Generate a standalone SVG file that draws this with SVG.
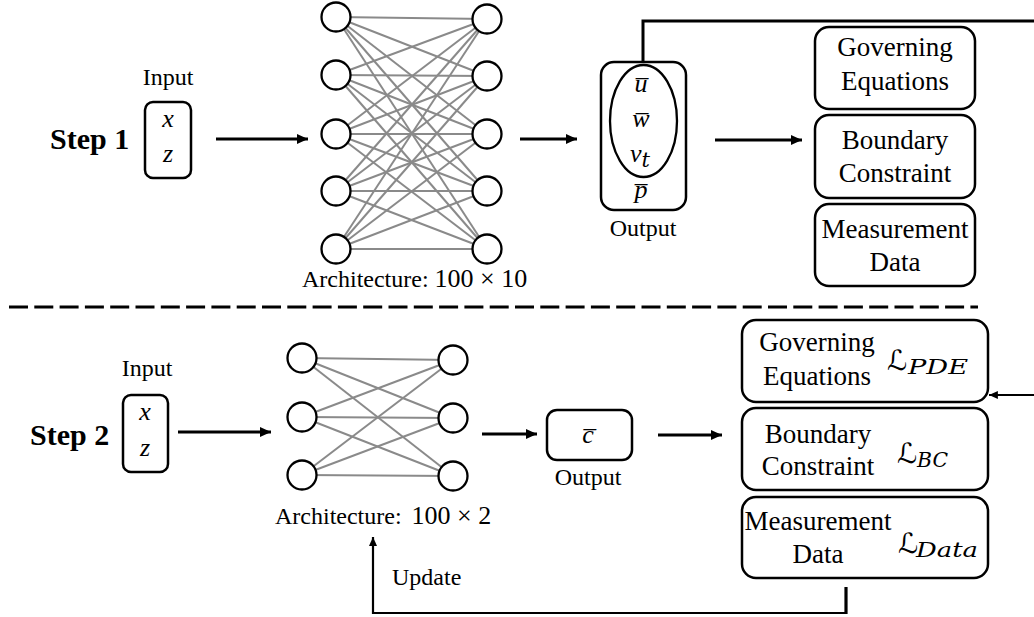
<svg xmlns="http://www.w3.org/2000/svg" width="1034" height="617" viewBox="0 0 1034 617">
<defs>
<style>
.box{fill:#fff;stroke:#000;stroke-width:2.5}
.nd{fill:#fff;stroke:#000;stroke-width:2.3}
.ed{stroke:#8a8a8a;stroke-width:2}
.ln{fill:none;stroke:#000;stroke-width:3}
.lbl{font-family:"Liberation Serif",serif;font-size:24px;fill:#000}
.bt{font-family:"Liberation Serif",serif;font-size:27px;fill:#000;text-anchor:middle}
.step{font-family:"Liberation Serif",serif;font-size:30px;font-weight:bold;fill:#000}
.m{font-family:"Liberation Serif",serif;font-style:italic;font-size:26px;fill:#000;text-anchor:middle}
.mu{font-family:"Liberation Serif",serif;font-size:26px;fill:#000}
.L{font-family:"DejaVu Serif","DejaVu Sans",serif;font-size:28px;fill:#000}
.sub{font-family:"DejaVu Serif",serif;font-style:italic;font-size:21px;fill:#000}
</style>
<marker id="ah" viewBox="0 0 10 9" refX="10" refY="4.5" markerWidth="11" markerHeight="10" markerUnits="userSpaceOnUse" orient="auto">
<path d="M0,0 L10,4.5 L0,9 z" fill="#000"/>
</marker>
<marker id="ahs" viewBox="0 0 10 9" refX="10" refY="4.5" markerWidth="9" markerHeight="8" markerUnits="userSpaceOnUse" orient="auto">
<path d="M0,0 L10,4.5 L0,9 z" fill="#000"/>
</marker>
</defs>
<rect width="1034" height="617" fill="#fff"/>

<g id="connectors">
<line class="ln" x1="216" y1="139" x2="308" y2="139" marker-end="url(#ah)"/>
<line class="ln" x1="520" y1="139" x2="577" y2="139" marker-end="url(#ah)"/>
<line class="ln" x1="715" y1="140" x2="802" y2="140" marker-end="url(#ah)"/>
<path class="ln" d="M643,62 V21 H1034"/>
<line class="ln" x1="178" y1="432" x2="271" y2="432" marker-end="url(#ah)"/>
<line class="ln" x1="482" y1="434" x2="537" y2="434" marker-end="url(#ah)"/>
<line class="ln" x1="658" y1="435" x2="722" y2="435" marker-end="url(#ah)"/>
<line x1="1034" y1="395" x2="989" y2="395" stroke="#000" stroke-width="1.8" marker-end="url(#ahs)"/>
<path d="M846,613 H373 V537" fill="none" stroke="#000" stroke-width="2.2" marker-end="url(#ahs)"/>
<line x1="846" y1="587" x2="846" y2="614" stroke="#000" stroke-width="3.2"/>
<line x1="9" y1="307" x2="978" y2="307" stroke="#000" stroke-width="3" stroke-dasharray="19 6.3"/>
</g>

<g id="step1-label"><text class="step" x="50" y="149">Step 1</text></g>

<g id="step1-input">
<text class="lbl" x="168" y="85" text-anchor="middle">Input</text>
<rect class="box" x="145" y="102" width="46" height="76" rx="8"/>
<text class="m" x="168" y="127">x</text>
<text class="m" x="168" y="162">z</text>
</g>

<g id="step1-network">
<g class="ed">
<line x1="336" y1="17" x2="487" y2="19"/><line x1="336" y1="17" x2="487" y2="76"/><line x1="336" y1="17" x2="487" y2="134"/><line x1="336" y1="17" x2="487" y2="191"/><line x1="336" y1="17" x2="487" y2="249"/>
<line x1="336" y1="75" x2="487" y2="19"/><line x1="336" y1="75" x2="487" y2="76"/><line x1="336" y1="75" x2="487" y2="134"/><line x1="336" y1="75" x2="487" y2="191"/><line x1="336" y1="75" x2="487" y2="249"/>
<line x1="336" y1="134" x2="487" y2="19"/><line x1="336" y1="134" x2="487" y2="76"/><line x1="336" y1="134" x2="487" y2="134"/><line x1="336" y1="134" x2="487" y2="191"/><line x1="336" y1="134" x2="487" y2="249"/>
<line x1="336" y1="191" x2="487" y2="19"/><line x1="336" y1="191" x2="487" y2="76"/><line x1="336" y1="191" x2="487" y2="134"/><line x1="336" y1="191" x2="487" y2="191"/><line x1="336" y1="191" x2="487" y2="249"/>
<line x1="336" y1="249" x2="487" y2="19"/><line x1="336" y1="249" x2="487" y2="76"/><line x1="336" y1="249" x2="487" y2="134"/><line x1="336" y1="249" x2="487" y2="191"/><line x1="336" y1="249" x2="487" y2="249"/>
</g>
<circle class="nd" cx="336" cy="17" r="14.5"/><circle class="nd" cx="336" cy="75" r="14.5"/><circle class="nd" cx="336" cy="134" r="14.5"/><circle class="nd" cx="336" cy="191" r="14.5"/><circle class="nd" cx="336" cy="249" r="14.5"/>
<circle class="nd" cx="487" cy="19" r="14.5"/><circle class="nd" cx="487" cy="76" r="14.5"/><circle class="nd" cx="487" cy="134" r="14.5"/><circle class="nd" cx="487" cy="191" r="14.5"/><circle class="nd" cx="487" cy="249" r="14.5"/>
<text class="lbl" x="302" y="287">Architecture: <tspan class="mu">100 × 10</tspan></text>
</g>

<g id="step1-output">
<rect class="box" x="601" y="62" width="85" height="148" rx="13"/>
<ellipse cx="643.5" cy="121" rx="33.5" ry="56" fill="none" stroke="#000" stroke-width="2.3"/>
<text class="m" x="641" y="92">u̅</text>
<text class="m" x="641" y="127">w̅</text>
<text class="m" x="640" y="162">ν<tspan class="sub" font-size="17" dy="5">t</tspan></text>
<text class="m" x="641" y="198">p̅</text>
<text class="lbl" x="643" y="236" text-anchor="middle">Output</text>
</g>

<g id="step1-governing">
<rect class="box" x="815" y="27" width="160" height="82" rx="14"/>
<text class="bt" x="895" y="56">Governing</text>
<text class="bt" x="895" y="90">Equations</text>
</g>
<g id="step1-boundary">
<rect class="box" x="815" y="115" width="160" height="83" rx="14"/>
<text class="bt" x="895" y="149">Boundary</text>
<text class="bt" x="895" y="182">Constraint</text>
</g>
<g id="step1-measurement">
<rect class="box" x="815" y="204" width="160" height="82" rx="14"/>
<text class="bt" x="895" y="238">Measurement</text>
<text class="bt" x="895" y="271">Data</text>
</g>

<g id="step2-label"><text class="step" x="30" y="445">Step 2</text></g>

<g id="step2-input">
<text class="lbl" x="147" y="376" text-anchor="middle">Input</text>
<rect class="box" x="123" y="395" width="45" height="77" rx="8"/>
<text class="m" x="145" y="420">x</text>
<text class="m" x="145" y="456">z</text>
</g>

<g id="step2-network">
<g class="ed">
<line x1="302" y1="358" x2="453" y2="360"/><line x1="302" y1="358" x2="453" y2="418"/><line x1="302" y1="358" x2="453" y2="476"/>
<line x1="302" y1="417" x2="453" y2="360"/><line x1="302" y1="417" x2="453" y2="418"/><line x1="302" y1="417" x2="453" y2="476"/>
<line x1="302" y1="475" x2="453" y2="360"/><line x1="302" y1="475" x2="453" y2="418"/><line x1="302" y1="475" x2="453" y2="476"/>
</g>
<circle class="nd" cx="302" cy="358" r="14.5"/><circle class="nd" cx="302" cy="417" r="14.5"/><circle class="nd" cx="302" cy="475" r="14.5"/>
<circle class="nd" cx="453" cy="360" r="14.5"/><circle class="nd" cx="453" cy="418" r="14.5"/><circle class="nd" cx="453" cy="476" r="14.5"/>
<text class="lbl" x="275" y="524">Architecture: <tspan class="mu" dx="4">100 × 2</tspan></text>
</g>

<g id="step2-output">
<rect class="box" x="547" y="410" width="85" height="50" rx="10"/>
<text class="m" x="588" y="443">c̅</text>
<text class="lbl" x="588" y="485" text-anchor="middle">Output</text>
</g>

<g id="step2-governing">
<rect class="box" x="742" y="320" width="246" height="82" rx="14"/>
<text class="bt" x="817" y="351">Governing</text>
<text class="bt" x="817" y="385">Equations</text>
<text class="L" x="887" y="370">ℒ</text>
<text class="sub" x="908" y="374" textLength="60" lengthAdjust="spacingAndGlyphs">PDE</text>
</g>
<g id="step2-boundary">
<rect class="box" x="742" y="408" width="246" height="82" rx="14"/>
<text class="bt" x="818" y="443">Boundary</text>
<text class="bt" x="818" y="475">Constraint</text>
<text class="L" x="897" y="463">ℒ</text>
<text class="sub" x="917" y="467" textLength="31" lengthAdjust="spacingAndGlyphs">BC</text>
</g>
<g id="step2-measurement">
<rect class="box" x="742" y="497" width="246" height="81" rx="14"/>
<text class="bt" x="818" y="530">Measurement</text>
<text class="bt" x="818" y="563">Data</text>
<text class="L" x="898" y="553">ℒ</text>
<text class="sub" x="916" y="557" textLength="62" lengthAdjust="spacingAndGlyphs">Data</text>
</g>

<g id="update-label"><text class="lbl" x="392" y="585">Update</text></g>
</svg>
